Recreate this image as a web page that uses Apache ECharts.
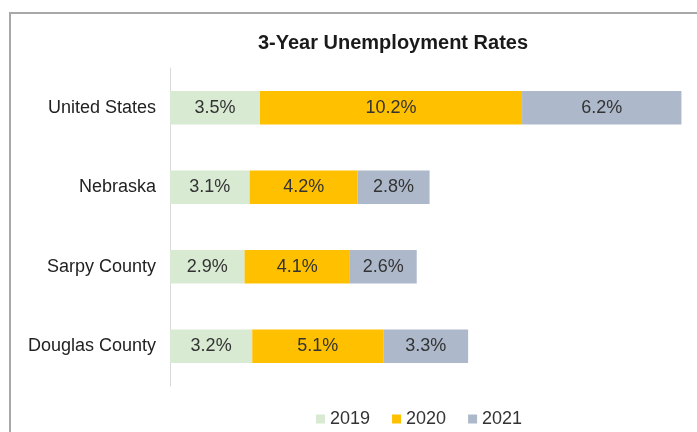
<!DOCTYPE html>
<html><head><meta charset="utf-8">
<script src="https://cdn.jsdelivr.net/npm/echarts@6/dist/echarts.min.js"></script>
<style>html,body{margin:0;padding:0;background:#fff}#c{width:697px;height:432px}</style>
</head><body><div id="c"></div>
<script>
const categories = ['United States', 'Nebraska', 'Sarpy County', 'Douglas County'];
const years = ['2019', '2020', '2021'];
const v2019 = [3.5, 3.1, 2.9, 3.2];
const v2020 = [10.2, 4.2, 4.1, 5.1];
const v2021 = [6.2, 2.8, 2.6, 3.3];
const colors = ['#d9ead3', '#ffc000', '#adb9ca'];
const seriesValues = [v2019, v2020, v2021];

const chart = echarts.init(document.getElementById('c'));
chart.setOption({
  animation: false,
  backgroundColor: '#fff',
  title: {
    text: '3-Year Unemployment Rates',
    left: 388, top: 28, textAlign: 'center',
    textStyle: {fontFamily: 'Liberation Sans, Arial', fontSize: 20, fontWeight: 'bold', color: '#1a1a1a'}
  },
  graphic: [{
    type: 'rect', shape: {x: 10, y: 13, width: 720, height: 450},
    style: {fill: 'none', stroke: '#a8a8a8', lineWidth: 2}, silent: true
  }],
  legend: {
    data: years, left: 311, top: 405, icon: 'rect', itemWidth: 9, itemHeight: 9, itemGap: 22,
    textStyle: {fontFamily: 'Liberation Sans, Arial', fontSize: 18, color: '#333'}
  },
  grid: {left: 170, right: 13, top: 68, bottom: 46},
  xAxis: {type: 'value', min: 0, max: 20, show: false},
  yAxis: {
    type: 'category', data: categories, inverse: true,
    axisLine: {show: true, lineStyle: {color: '#d9d9d9', width: 1}},
    axisTick: {show: false},
    axisLabel: {fontFamily: 'Liberation Sans, Arial', fontSize: 18, color: '#222', margin: 14}
  },
  series: years.map((y, i) => ({
    name: y, type: 'bar', stack: 'total', data: seriesValues[i],
    barCategoryGap: '58%',
    itemStyle: {color: colors[i]},
    label: {
      show: true, position: 'inside', formatter: p => p.value.toFixed(1) + '%',
      fontFamily: 'Liberation Sans, Arial', fontSize: 18, color: '#333'
    }
  }))
});
</script></body></html>
